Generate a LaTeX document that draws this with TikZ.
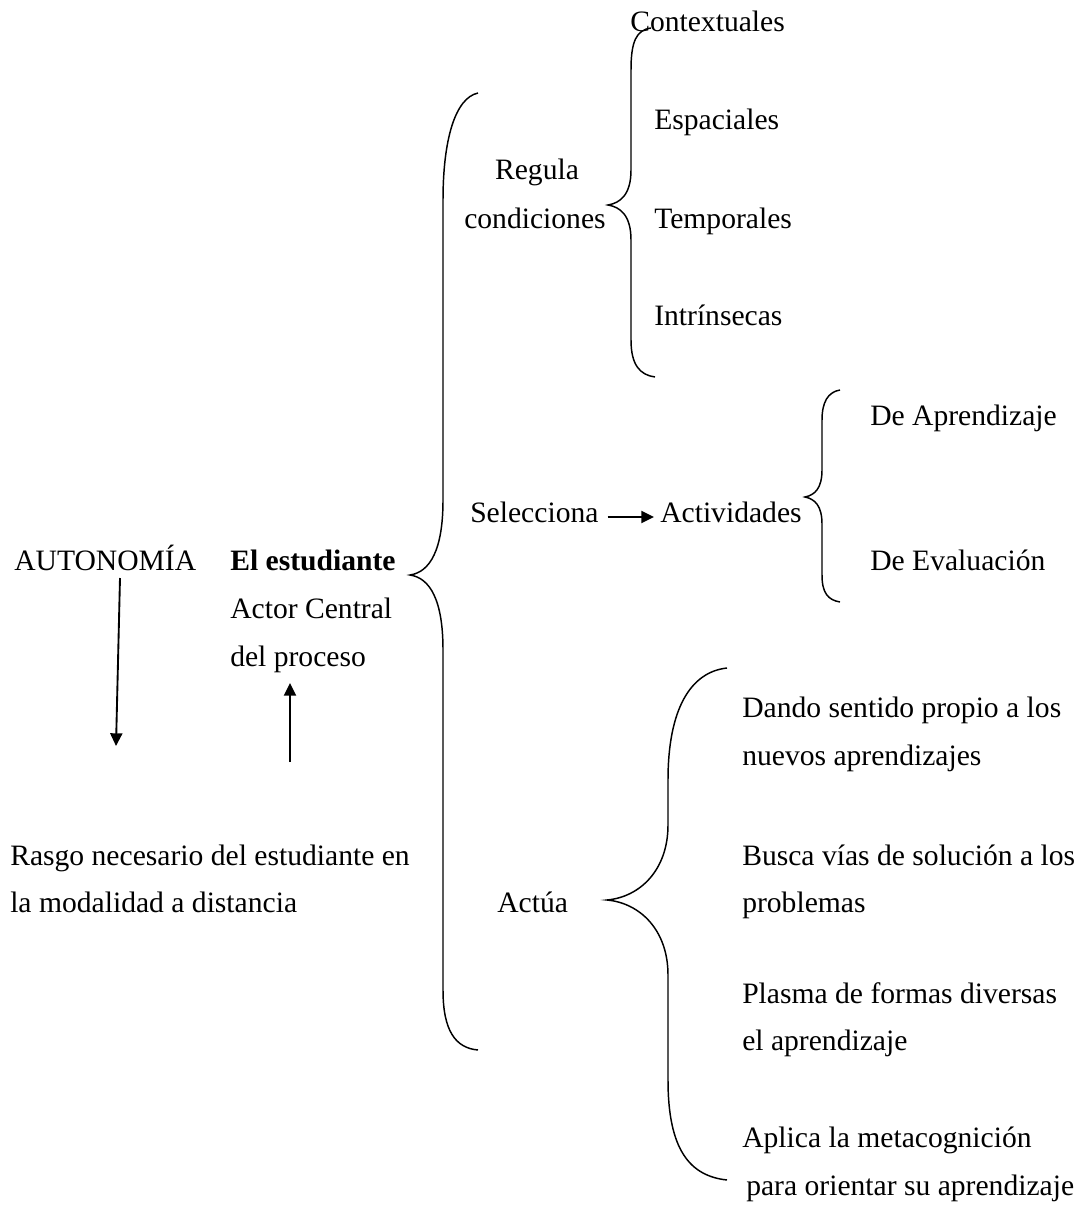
\documentclass[tikz,border=0pt]{standalone}
\usepackage{fontspec}
\setmainfont{Liberation Serif}
\usetikzlibrary{arrows.meta}
\begin{document}
\begin{tikzpicture}[x=0.75pt,y=-0.75pt,
  txt/.style={inner sep=0pt,anchor=base west,font=\fontsize{22.2}{26}\selectfont},
  arr/.style={line width=1.4pt,-{Triangle[width=9pt,length=9.5pt]}},
  brace/.style={line width=1.1pt}]
\useasboundingbox (0,0) rectangle (1084,1209);
% left column
\node[txt] (auto) at (14,570) {AUTONOMÍA};
\node[txt] (est) at (230,570) {\bfseries El estudiante};
\node[txt] (actor) at (230,618) {Actor Central};
\node[txt] (proc) at (230,666) {del proceso};
\node[txt] (rasgo) at (10,865) {Rasgo necesario del estudiante en};
\node[txt] (modal) at (10,912) {la modalidad a distancia};
\coordinate (d1) at (120,578);
\coordinate (d2) at (116,746);
\coordinate (u1) at (290,762);
\coordinate (u2) at (290,683);
\draw[arr] (d1) -- (d2);
\draw[arr] (u1) -- (u2);
% middle column
\node[txt,anchor=base] (regula) at (537,180) {Regula};
\node[txt] (cond) at (464,228) {condiciones};
\node[txt] (sel) at (470,522) {Selecciona};
\node[txt] (act) at (660,522) {Actividades};
\node[txt] (actua) at (497,912) {Actúa};
\draw[arr] ([shift={(9,-5)}]sel.base east) -- ([shift={(-6,-5)}]act.base west);
% conditions
\node[txt] (cont) at (630,32) {Contextuales};
\node[txt] (esp) at (654,130) {Espaciales};
\node[txt] (temp) at (654,228) {Temporales};
\node[txt] (intr) at (654,325) {Intrínsecas};
% activities
\node[txt] (apr) at (870,425) {De Aprendizaje};
\node[txt] (eva) at (870,570) {De Evaluación};
% actions
\node[txt] (a1) at (742,717) {Dando sentido propio a los};
\node[txt] (a1b) at (742,765) {nuevos aprendizajes};
\node[txt] (a2) at (742,865) {Busca vías de solución a los};
\node[txt] (a2b) at (742,912) {problemas};
\node[txt] (a3) at (742,1003) {Plasma de formas diversas};
\node[txt] (a3b) at (742,1050) {el aprendizaje};
\node[txt] (a4) at (742,1147) {Aplica la metacognición};
\node[txt] (a4b) at (746,1195) {para orientar su aprendizaje};
% braces
% big brace
\draw[brace] (478,93) .. controls (455,98) and (443,140) .. (443,200)
  -- (443,500) .. controls (443,550) and (430,572) .. (410,575)
  .. controls (430,578) and (443,600) .. (443,650)
  -- (443,990) .. controls (443,1030) and (455,1048) .. (478,1050);
% regula brace
\draw[brace] (651,28) .. controls (636,30) and (631,42) .. (631,70)
  -- (631,170) .. controls (631,195) and (620,203) .. (608,205)
  .. controls (620,207) and (631,215) .. (631,240)
  -- (631,340) .. controls (631,365) and (640,375) .. (655,377);
% activities brace
\draw[brace] (840,390) .. controls (828,392) and (822,402) .. (822,420)
  -- (822,470) .. controls (822,488) and (815,495) .. (805,497)
  .. controls (815,499) and (822,506) .. (822,524)
  -- (822,575) .. controls (822,593) and (828,600) .. (840,602);
% actua brace
\draw[brace] (727,668) .. controls (690,672) and (668,710) .. (668,780)
  -- (668,825) .. controls (668,870) and (640,897) .. (607,900)
  .. controls (640,903) and (668,930) .. (668,975)
  -- (668,1080) .. controls (668,1150) and (690,1176) .. (727,1180);
\end{tikzpicture}
\end{document}
